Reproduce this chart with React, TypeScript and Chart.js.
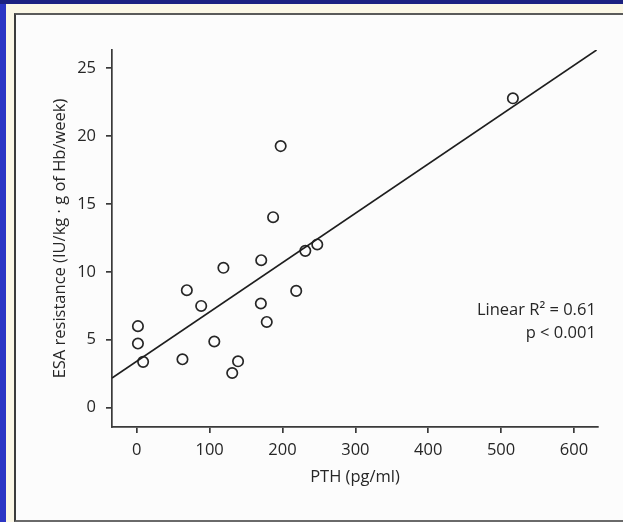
import React, { useEffect, useRef } from "react";
import { Chart, registerables } from "chart.js";

Chart.register(...registerables);

// Data
const pthValues = [1.6, 1.6, 8.7, 62.7, 68.7, 88.4, 106.4, 118.9, 131, 139, 170.8, 170.3, 178.4, 187.1, 197.5, 218.8, 231.3, 247.7, 516.2];
const esaValues = [6.0, 4.72, 3.37, 3.56, 8.65, 7.49, 4.87, 10.3, 2.55, 3.41, 10.86, 7.67, 6.31, 14.03, 19.27, 8.6, 11.55, 12.02, 22.79];

// Fitted regression line endpoints (as drawn in the reference)
const fitLineX = [-34, 631];
const fitLineY = [2.18, 26.35];

const xTickValues = [0, 100, 200, 300, 400, 500, 600];
const yTickValues = [0, 5, 10, 15, 20, 25];

const xAxisTitle = "PTH (pg/ml)";
const yAxisTitle = "ESA resistance (IU/kg · g of Hb/week)";

const annotationLines = ["Linear R² = 0.61", "p < 0.001"];
const annotationX = 630;
const annotationY = [7.2, 5.5];

const FONT = "'Open Sans', 'DejaVu Sans', sans-serif";
const INK = "#262626";
const FSIZE = 16.5;

const annotationPlugin = {
  id: "statsAnnotation",
  afterDatasetsDraw(chart: any) {
    const { ctx, scales } = chart;
    ctx.save();
    ctx.fillStyle = INK;
    ctx.font = `500 ${FSIZE}px ${FONT}`;
    ctx.textAlign = "right";
    ctx.textBaseline = "middle";
    annotationLines.forEach((txt, i) => {
      ctx.fillText(txt, scales.x.getPixelForValue(annotationX), scales.y.getPixelForValue(annotationY[i]));
    });
    ctx.restore();
  },
};

export default function App() {
  const canvasRef = useRef<HTMLCanvasElement | null>(null);

  useEffect(() => {
    if (!canvasRef.current) return;
    const font = { family: FONT, size: FSIZE, weight: "500" };
    const chart = new Chart(canvasRef.current, {
      type: "scatter",
      data: {
        datasets: [
          {
            type: "line",
            data: fitLineX.map((x, i) => ({ x, y: fitLineY[i] })),
            borderColor: "#1e1e1e",
            borderWidth: 1.6,
            pointRadius: 0,
            fill: false,
          } as any,
          {
            type: "scatter",
            data: pthValues.map((x, i) => ({ x, y: esaValues[i] })),
            pointRadius: 5.2,
            pointHoverRadius: 5.2,
            borderColor: INK,
            borderWidth: 1.7,
            backgroundColor: "rgba(0,0,0,0)",
          },
        ],
      },
      options: {
        responsive: false,
        animation: false,
        layout: { padding: { left: 0, right: 25, top: 50, bottom: 0 } },
        plugins: {
          legend: { display: false },
          tooltip: { enabled: false },
        },
        scales: {
          x: {
            type: "linear",
            min: -34,
            max: 633,
            afterBuildTicks: (scale: any) => {
              scale.ticks = xTickValues.map((v) => ({ value: v }));
            },
            afterFit: (scale: any) => {
              scale.height = 95;
            },
            grid: { display: true, drawOnChartArea: false, drawTicks: true, tickLength: 6, color: "#3a3a3a", lineWidth: 1.7 },
            border: { display: true, color: "#3a3a3a", width: 1.7 },
            ticks: { color: INK, font, padding: 7, maxRotation: 0 },
            title: {
              display: true,
              text: xAxisTitle,
              color: INK,
              font,
              padding: { top: 0, bottom: 35 },
            },
          },
          y: {
            type: "linear",
            min: -1.43,
            max: 26.35,
            afterBuildTicks: (scale: any) => {
              scale.ticks = yTickValues.map((v) => ({ value: v }));
            },
            afterFit: (scale: any) => {
              scale.width = 112;
            },
            grid: { display: true, drawOnChartArea: false, drawTicks: true, tickLength: 6, color: "#3a3a3a", lineWidth: 1.7 },
            border: { display: true, color: "#3a3a3a", width: 1.7 },
            ticks: { color: INK, font, padding: 10 },
            title: {
              display: true,
              text: yAxisTitle,
              color: INK,
              font,
              padding: { top: 50, bottom: 0 },
            },
          },
        },
      },
      plugins: [annotationPlugin],
    } as any);
    return () => chart.destroy();
  }, []);

  return (
    <div style={{ position: "fixed", left: 0, top: 0, width: 623, height: 522, background: "#2c36c4", overflow: "hidden" }}>
      <div style={{ position: "absolute", left: 0, top: 0, width: 623, height: 4, background: "#1c2180" }} />
      <div style={{ position: "absolute", left: 6, top: 4, right: 0, bottom: 0, background: "#fbf7e6" }} />
      <div
        style={{
          position: "absolute",
          left: 14,
          top: 13,
          width: 623,
          height: 505,
          borderTop: "2px solid #5a5a5a",
          borderLeft: "2px solid #3c3c3c",
          borderBottom: "2px solid #6a6a6a",
          background: "#fcfcfc",
        }}
      />
      <canvas ref={canvasRef} width={623} height={522} style={{ position: "absolute", left: 0, top: 0, width: 623, height: 522 }} />
    </div>
  );
}
